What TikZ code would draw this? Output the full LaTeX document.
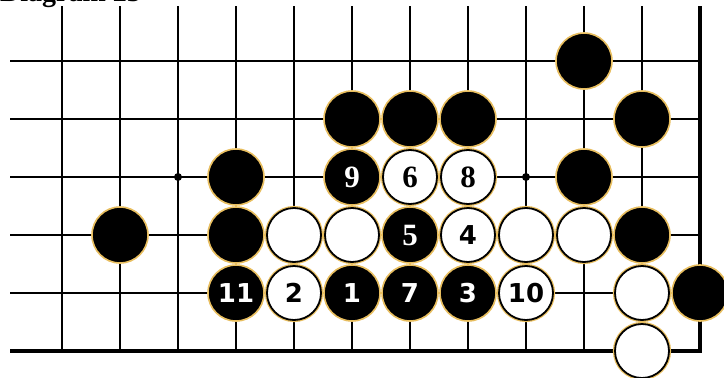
\documentclass[tikz,border=0pt]{standalone}
\usepackage{fontspec}
\setmainfont{Liberation Serif}
\newfontfamily\numsans{DejaVu Sans}
\definecolor{gold}{RGB}{232,190,95}
\tikzset{
  gridline/.style={line width=2pt, black},
  edgeline/.style={line width=3.5pt, black},
  bstone/.style={circle, fill=black, draw=gold, line width=1.6pt, minimum size=56pt, inner sep=0pt, text=white},
  wstone/.style={circle, fill=white, draw=black, line width=1.8pt, minimum size=54pt, inner sep=0pt, text=black,
    preaction={draw=gold, line width=4.2pt}},
  serifnum/.style={font=\bfseries\fontsize{31}{31}\selectfont},
  sansnum/.style={font=\numsans\bfseries\fontsize{26}{26}\selectfont},
  starpt/.style={circle, fill=black, minimum size=8pt, inner sep=0pt}
}
\begin{document}
\begin{tikzpicture}[x=1pt, y=-1pt]
\useasboundingbox (0,0) rectangle (724,378);
\fill[white] (0,0) rectangle (724,378);
% title (cut by the top of the page, as in the reference)
\node[anchor=base west, inner sep=0pt, font=\bfseries\fontsize{28}{28}\selectfont] (title) at (0,1.5) {Diagram 23};
% grid
\foreach \c in {0,...,10} {
  \draw[gridline] ({62+58*\c},6) -- ({62+58*\c},351);
}
\foreach \r in {0,...,4} {
  \draw[gridline] (10,{61+58*\r}) -- (700,{61+58*\r});
}
\draw[edgeline] (10,351) -- (700,351) -- (700,6);
% star points
\node[starpt] (star1) at ({62+58*2},{61+58*2}) {};
\node[starpt] (star2) at ({62+58*8},{61+58*2}) {};
% black stones
\foreach \c/\r in {9/0, 5/1, 6/1, 7/1, 10/1, 3/2, 9/2, 1/3, 3/3, 10/3, 11/4} {
  \node[bstone] (b-\c-\r) at ({62+58*\c},{61+58*\r}) {};
}
% white stones
\foreach \c/\r in {4/3, 5/3, 8/3, 9/3, 10/4, 10/5} {
  \node[wstone] (w-\c-\r) at ({62+58*\c},{61+58*\r}) {};
}
% numbered stones
\node[bstone, serifnum] (m9) at ({62+58*5},{61+58*2}) {9};
\node[wstone, serifnum] (m6) at ({62+58*6},{61+58*2}) {6};
\node[wstone, serifnum] (m8) at ({62+58*7},{61+58*2}) {8};
\node[bstone, serifnum] (m5) at ({62+58*6},{61+58*3}) {5};
\node[wstone, sansnum] (m4) at ({62+58*7},{61+58*3}) {4};
\node[bstone, sansnum] (m11) at ({62+58*3},{61+58*4}) {11};
\node[wstone, sansnum] (m2) at ({62+58*4},{61+58*4}) {2};
\node[bstone, sansnum] (m1) at ({62+58*5},{61+58*4}) {1};
\node[bstone, sansnum] (m7) at ({62+58*6},{61+58*4}) {7};
\node[bstone, sansnum] (m3) at ({62+58*7},{61+58*4}) {3};
\node[wstone, sansnum] (m10) at ({62+58*8},{61+58*4}) {10};
\end{tikzpicture}
\end{document}
